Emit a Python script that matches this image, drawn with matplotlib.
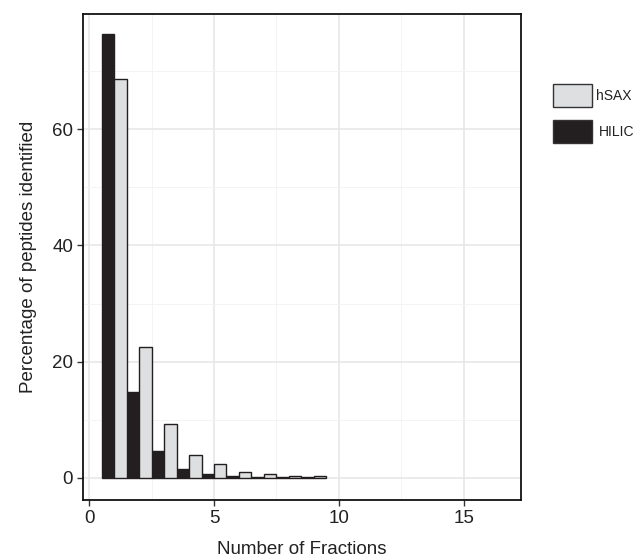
import matplotlib
matplotlib.use("Agg")
import matplotlib.pyplot as plt
from matplotlib.patches import Rectangle
from matplotlib.ticker import MultipleLocator

plt.rcParams['font.family'] = ['Liberation Sans', 'DejaVu Sans']

fractions = [1, 2, 3, 4, 5, 6, 7, 8, 9]
hilic = [76.4, 14.8, 4.6, 1.5, 0.7, 0.35, 0.2, 0.1, 0.08]
hsax = [68.6, 22.6, 9.2, 3.9, 2.4, 1.0, 0.65, 0.35, 0.3]
series_names = ["hSAX", "HILIC"]
series_colors = {"hSAX": "#dedfe0", "HILIC": "#231f20"}

fig = plt.figure(figsize=(6.38, 5.57), dpi=100)
ax = fig.add_axes([0.130, 0.1023, 0.6866, 0.8726])

w = 0.5
ax.bar([f - w / 2 for f in fractions], hilic, width=w, color=series_colors["HILIC"],
       edgecolor="#231f20", linewidth=1.0, zorder=3)
ax.bar([f + w / 2 for f in fractions], hsax, width=w, color=series_colors["hSAX"],
       edgecolor="#231f20", linewidth=1.0, zorder=3)

ax.set_xlim(-0.25, 17.3)
ax.set_ylim(-3.8, 79.8)
ax.xaxis.set_major_locator(MultipleLocator(5))
ax.xaxis.set_minor_locator(MultipleLocator(2.5))
ax.set_yticks([0, 20, 40, 60])
ax.set_yticks([10, 30, 50, 70], minor=True)
ax.grid(which="major", color="#e6e6e6", linewidth=1.1, zorder=0)
ax.grid(which="minor", color="#f3f3f3", linewidth=0.6, zorder=0)
ax.set_axisbelow(True)
ax.tick_params(which="minor", length=0)
ax.tick_params(which="major", direction="out", length=4, width=1, color="#333333",
               labelsize=13.5, labelcolor="#222222", pad=3)
for s in ax.spines.values():
    s.set_linewidth(1.3)
    s.set_color("#111111")

ax.set_xlabel("Number of Fractions", fontsize=13.5, color="#222222", labelpad=10)
ax.set_ylabel("Percentage of peptides identified", fontsize=13.5, color="#222222", labelpad=11)

# legend
W, H = 638.0, 557.0
keys = [(series_names[0], 84, 596), (series_names[1], 120, 599)]
for name, ytop, xt in keys:
    fig.add_artist(Rectangle((553 / W, 1 - (ytop + 23) / H), 39 / W, 23 / H,
                             transform=fig.transFigure, facecolor=series_colors[name],
                             edgecolor="#333333", linewidth=1.0))
    fig.text(xt / W, 1 - (ytop + 11.5) / H, name, fontsize=10, color="#222222",
             va="center", ha="left")

fig.savefig("out.png", dpi=100)
